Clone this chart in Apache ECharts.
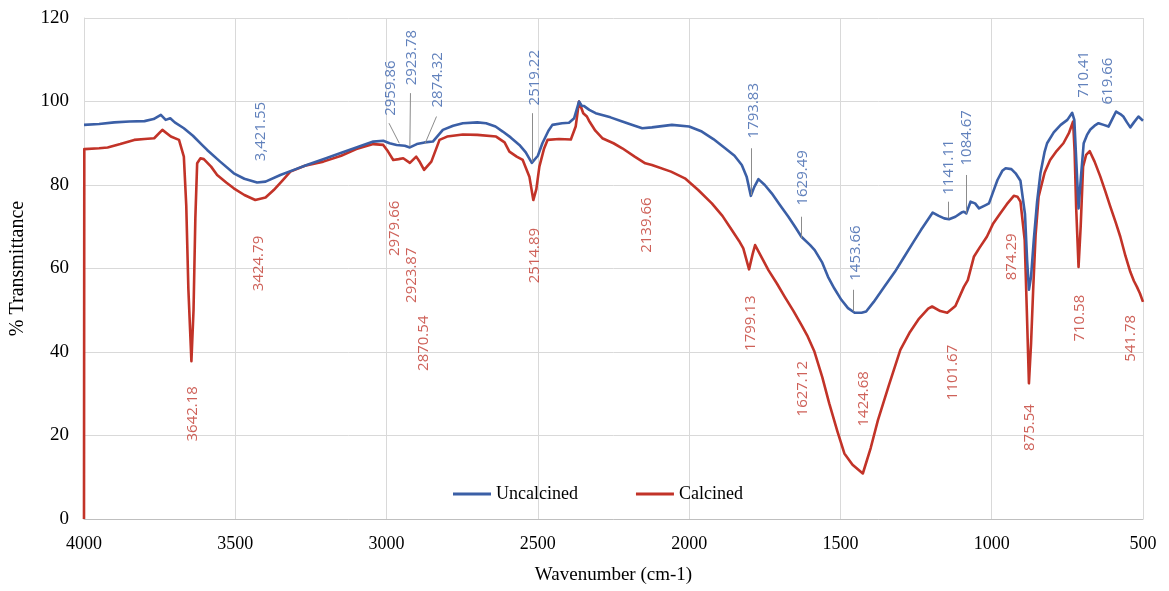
<!DOCTYPE html>
<html>
<head>
<meta charset="utf-8">
<script src="https://cdn.jsdelivr.net/npm/echarts@6/dist/echarts.min.js"></script>
<style>
html,body{margin:0;padding:0;background:#fff;}
#chart{width:1169px;height:591px;}
</style>
</head>
<body>
<div id="chart"></div>
<script>
// Wavenumber (cm-1) and % Transmittance
const uncalcinedWn = [4000,3950,3900,3850,3800,3770,3746,3730,3715,3700,3670,3640,3610,3593,3550,3505,3470,3428,3400,3351,3300,3264,3200,3154,3100,3044,3011,2990,2967,2940,2923,2900,2874,2847,2814,2780,2748,2700,2671,2640,2616,2590,2561,2540,2520,2500,2485,2465,2452,2420,2397,2380,2364,2355,2347,2330,2309,2260,2221,2180,2155,2123,2057,2000,1958,1920,1881,1850,1826,1810,1796,1785,1771,1750,1727,1700,1672,1650,1629,1600,1585,1560,1541,1520,1497,1475,1453,1430,1415,1390,1355,1320,1289,1260,1234,1210,1195,1175,1157,1141,1120,1100,1092,1084,1070,1055,1042,1020,1009,995,981,965,954,935,921,905,899,890,883,877,870,861,850,839,825,817,795,772,750,734,727,720,713,705,696,685,674,660,647,630,614,600,589,575,565,553,542,530,515,500];
const uncalcinedT = [94.4,94.6,95.0,95.2,95.3,95.8,96.8,95.6,96.0,95.0,93.6,91.8,89.6,88.4,85.6,82.8,81.5,80.6,80.8,82.4,83.8,84.8,86.4,87.6,89.0,90.4,90.6,90.0,89.6,89.4,89.0,89.8,90.2,90.4,93.2,94.2,94.8,95.0,94.8,94.0,92.8,91.4,89.6,87.8,85.3,87.0,90.0,93.0,94.4,94.8,94.9,96.0,100.0,99.0,98.9,98.0,97.2,96.2,95.2,94.2,93.6,93.8,94.4,94.0,92.8,91.0,88.8,87.0,84.8,82.0,77.4,79.5,81.4,80.0,78.0,75.2,72.4,70.0,67.6,65.6,64.4,61.4,58.0,55.2,52.5,50.5,49.4,49.4,49.7,52.0,55.6,59.2,62.8,66.2,69.2,71.8,73.4,72.6,72.0,71.8,72.4,73.4,73.6,73.2,76.0,75.6,74.4,75.2,75.6,78.4,81.2,83.4,84.0,83.8,82.8,81.0,80.8,73.0,62.0,54.9,58.0,66.8,76.0,82.8,88.0,90.0,92.6,94.4,95.6,97.3,95.6,85.0,74.4,82.0,90.0,92.0,93.3,94.2,94.8,94.4,94.0,96.0,97.6,97.0,96.4,95.0,93.8,95.0,96.4,95.4];

const calcinedWn = [4000,3999,3950,3922,3880,3834,3800,3768,3741,3713,3686,3670,3662,3655,3645,3638,3632,3626,3615,3604,3580,3560,3530,3505,3470,3434,3400,3373,3345,3318,3270,3209,3150,3100,3044,3011,2995,2978,2960,2945,2923,2902,2890,2876,2852,2825,2800,2748,2700,2638,2610,2594,2570,2550,2528,2515,2505,2495,2480,2468,2430,2391,2375,2364,2350,2344,2338,2331,2310,2287,2250,2221,2180,2145,2123,2060,2014,1970,1925,1890,1859,1835,1821,1802,1790,1782,1760,1738,1710,1684,1655,1629,1610,1586,1560,1537,1510,1487,1460,1426,1400,1376,1340,1302,1270,1240,1210,1197,1170,1147,1120,1092,1079,1059,1040,1016,995,972,950,927,915,905,891,884,877,870,863,855,845,825,807,785,763,745,731,726,721,713,706,698,688,676,660,641,625,608,590,575,558,542,530,520,510,500];
const calcinedT = [0,88.6,88.8,89.0,89.8,90.8,91.0,91.2,93.2,91.6,90.8,86.8,75,55,37.8,50,72,85.2,86.4,86.2,84.4,82.4,80.6,79.2,77.6,76.4,77.0,78.8,81.0,83.2,84.6,85.6,87.0,88.6,89.8,89.6,88.0,86.0,86.2,86.4,85.3,86.8,85.5,83.6,85.6,90.8,91.6,92.1,92.0,91.6,90.2,88.0,86.8,86.0,82.0,76.4,79,84.4,88.6,90.8,91.0,90.9,94.0,100.0,97.2,97.2,96.4,95.4,93.0,91.2,90.0,88.8,86.8,85.2,84.8,83.2,81.6,78.8,75.6,72.6,69.2,66.6,64.8,59.8,63.5,65.6,62.6,59.6,56.4,53.2,49.8,46.5,44.0,40.1,34.0,27.7,21.0,15.7,13.0,10.9,17.0,23.7,32.0,40.5,44.8,48.0,50.4,50.9,49.8,49.4,51.0,55.6,57.2,62.8,65.0,67.6,70.8,73.2,75.4,77.4,77.2,76.0,66.8,50,32.5,42,54.9,68,77.2,83.0,86.0,88.2,90.0,92.4,95.2,88,74.8,60.4,70,84.4,87.2,88.1,85.6,82.0,78.6,74.8,71.0,67.6,63.0,59.2,57.0,55.6,54.0,52.0];

const xTicks = [4000,3500,3000,2500,2000,1500,1000,500];
const yTicks = [0,20,40,60,80,100,120];

// Peak annotations: [label, wavenumber position, transmittance position of label centre]
const blueLabels = [
  ['3,421.55',3415,92.8],['2959.86',2986,103.2],['2923.78',2917,110.5],['2874.32',2832,105.2],
  ['2519.22',2511,105.7],['1793.83',1787,97.8],['1629.49',1626,81.7],['1453.66',1450,63.7],
  ['1141.11',1143,84.3],['1084.67',1082,91.3],['710.41',695,106.5],['619.66',616,104.9]
];
const redLabels = [
  ['3642.18',3639,25.2],['3424.79',3424,61.2],['2979.66',2973,69.6],['2923.87',2917,58.4],
  ['2870.54',2876,42.1],['2514.89',2509,63.1],['2139.66',2140,70.4],['1799.13',1796,46.9],
  ['1627.12',1624,31.2],['1424.68',1423,28.8],['1101.67',1130,35.1],['874.29',935,62.8],
  ['875.54',873,21.9],['710.58',710,48.1],['541.78',540,43.3]
];
// Leader lines: [wn1, T1, wn2, T2]
const leaders = [
  [2992,94.8,2958,90.0],[2921,102.0,2923,89.2],[2835,96.4,2873,89.9],[2517,97.2,2517,85.6],
  [1794,88.8,1794,77.6],[1628,72.4,1628,67.2],[1456,54.9,1456,49.7],[1143,76.0,1143,72.0],
  [1084,82.4,1084,73.2]
];

const blue = '#3B5FA6';
const red = '#C23328';
const serif = '"Liberation Serif","DejaVu Serif",serif';
const sans = '"Open Sans","Noto Sans",sans-serif';

function pairs(xs, ys){ return xs.map((x,i)=>[x, ys[i]]); }

const chart = echarts.init(document.getElementById('chart'), null, {renderer:'canvas'});
chart.setOption({
  animation:false,
  backgroundColor:'#fff',
  grid:{left:80, right:26, top:18, bottom:72, containLabel:false},
  legend:{
    data:[{name:'Uncalcined', icon:'rect'},{name:'Calcined', icon:'rect'}],
    left:448, top:480, itemWidth:38, itemHeight:3, itemGap:58,
    textStyle:{fontFamily:serif, fontSize:18, color:'#000'}
  },
  xAxis:{
    type:'value', inverse:true, min:500, max:4000, interval:500,
    name:'Wavenumber (cm-1)', nameLocation:'middle', nameGap:47,
    nameTextStyle:{fontFamily:serif, fontSize:19, color:'#000'},
    axisLine:{show:true, lineStyle:{color:'#bfbfbf', width:1}},
    axisTick:{show:false},
    axisLabel:{fontFamily:serif, fontSize:18, color:'#000', margin:16,
      formatter:v=> xTicks.includes(v) ? String(v) : ''},
    splitLine:{show:true, lineStyle:{color:'#d9d9d9', width:1}}
  },
  yAxis:{
    type:'value', min:0, max:120, interval:20,
    name:'% Transmittance', nameLocation:'middle', nameGap:56, nameRotate:90,
    nameTextStyle:{fontFamily:serif, fontSize:20, color:'#000'},
    axisLine:{show:true, lineStyle:{color:'#d9d9d9', width:1}},
    axisTick:{show:false},
    axisLabel:{fontFamily:serif, fontSize:19, color:'#000', margin:15,
      formatter:v=> yTicks.includes(v) ? String(v) : ''},
    splitLine:{show:true, lineStyle:{color:'#d9d9d9', width:1}}
  },
  series:[
    {
      name:'Uncalcined', type:'line', data:pairs(uncalcinedWn, uncalcinedT),
      showSymbol:false, symbol:'none', smooth:false,
      lineStyle:{color:blue, width:2.6, join:'round'}, itemStyle:{color:blue},
      z:3,
      markLine:{
        silent:true, symbol:['none','none'], label:{show:false},
        lineStyle:{color:'#8c8c8c', width:1, type:'solid'},
        data: leaders.map(l=>[{coord:[l[0],l[1]]},{coord:[l[2],l[3]]}])
      }
    },
    {
      name:'Calcined', type:'line', data:pairs(calcinedWn, calcinedT),
      showSymbol:false, symbol:'none', smooth:false,
      lineStyle:{color:red, width:2.6, join:'round'}, itemStyle:{color:red},
      z:2
    },
    {
      name:'blueLabels', type:'scatter', symbolSize:0, silent:true, z:5,
      data: blueLabels.map(l=>[l[1], l[2], l[0]]),
      label:{show:true, position:'inside', rotate:90, formatter:p=>p.value[2],
        fontFamily:sans, fontSize:15, color:'#3A62AB'}
    },
    {
      name:'redLabels', type:'scatter', symbolSize:0, silent:true, z:5,
      data: redLabels.map(l=>[l[1], l[2], l[0]]),
      label:{show:true, position:'inside', rotate:90, formatter:p=>p.value[2],
        fontFamily:sans, fontSize:15, color:'#C23A30'}
    }
  ]
});
</script>
</body>
</html>
